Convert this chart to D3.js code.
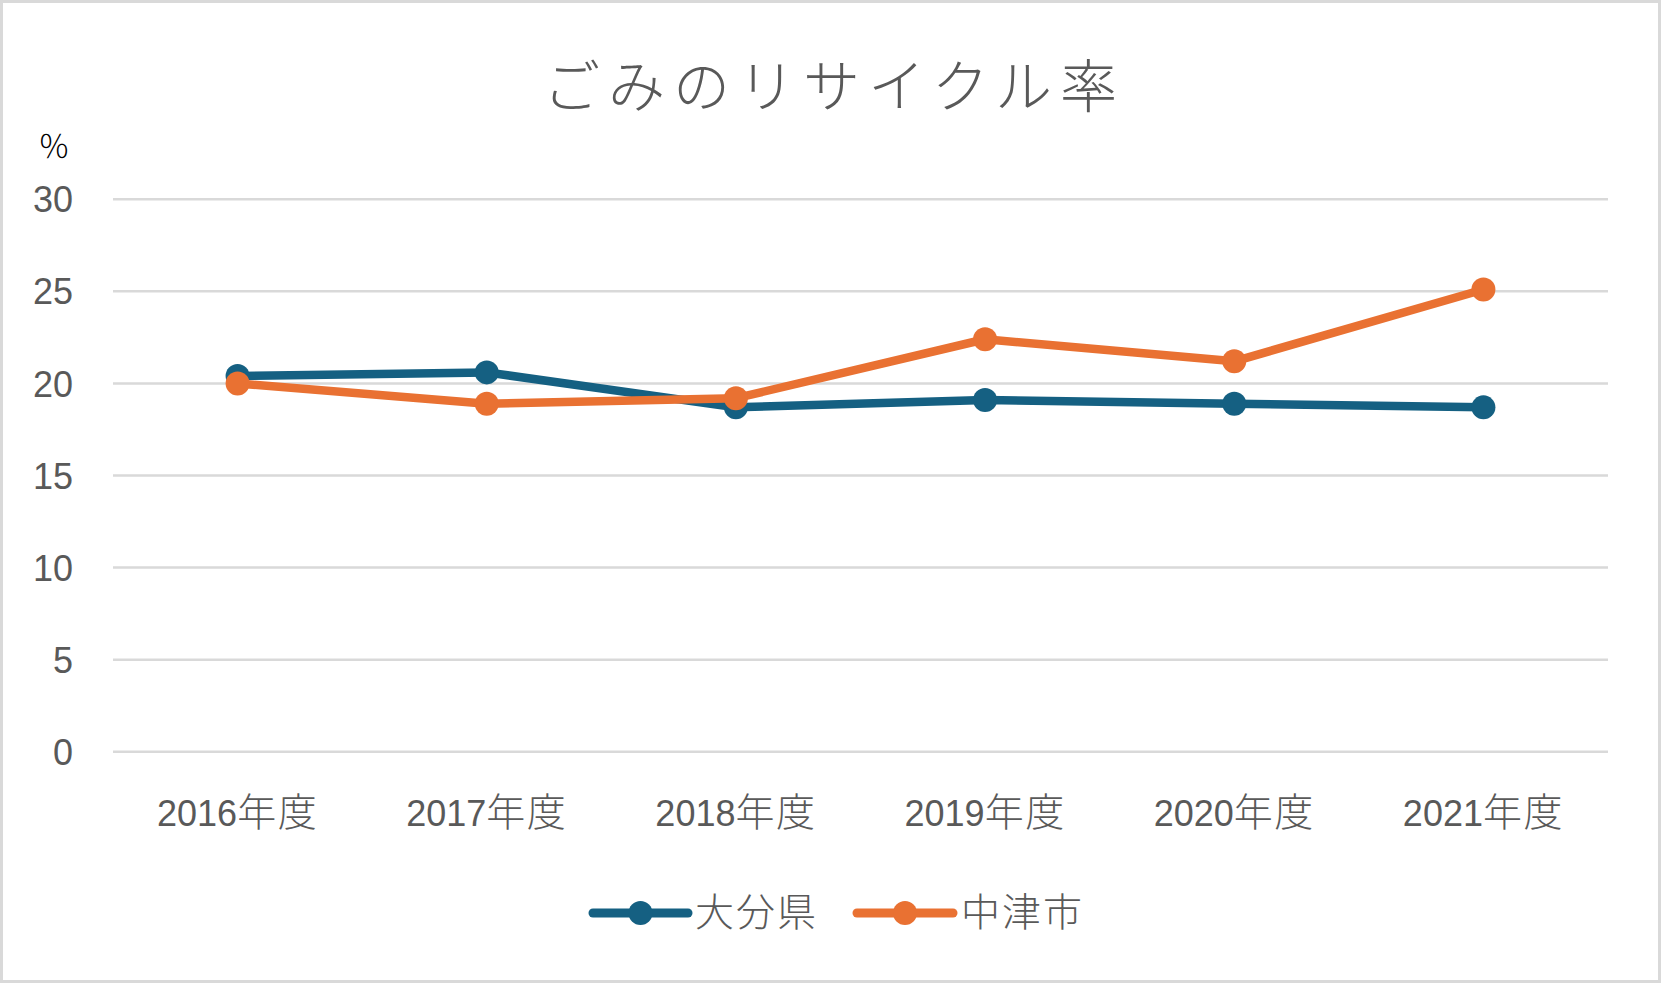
<!DOCTYPE html>
<html>
<head>
<meta charset="utf-8">
<script src="https://cdn.jsdelivr.net/npm/d3@7/dist/d3.min.js"></script>
<style>
  html, body { margin: 0; padding: 0; background: #fff; }
  svg { display: block; }
  text { font-family: "Liberation Sans", "Noto Sans CJK JP", sans-serif; }
</style>
</head>
<body>
<svg id="chart" width="1661" height="983"></svg>
<script>
const title = "ごみのリサイクル率";
const unitLabel = "％";
const categories = ["2016年度", "2017年度", "2018年度", "2019年度", "2020年度", "2021年度"];
const seriesNames = ["大分県", "中津市"];
const oitaValues = [20.4, 20.6, 18.7, 19.1, 18.9, 18.7];
const nakatsuValues = [20.0, 18.9, 19.2, 22.4, 21.2, 25.1];
const yTicks = [0, 5, 10, 15, 20, 25, 30];
const colors = ["#156082", "#E97132"];

const svg = d3.select("#chart");
const W = 1661, H = 983;

// frame
svg.append("rect").attr("x", 1.5).attr("y", 1.5).attr("width", W - 3).attr("height", H - 3)
  .attr("fill", "#fff").attr("stroke", "#d9d9d9").attr("stroke-width", 3);

const plot = { left: 113, right: 1608, top: 199.3, bottom: 751.7 };

const x = d3.scaleBand().domain(categories).range([plot.left, plot.right]).padding(0);
const y = d3.scaleLinear().domain([0, 30]).range([plot.bottom, plot.top]);
const cx = d => x(d) + x.bandwidth() / 2;

// gridlines
svg.append("g").selectAll("line").data(yTicks).join("line")
  .attr("x1", plot.left).attr("x2", plot.right)
  .attr("y1", d => y(d)).attr("y2", d => y(d))
  .attr("stroke", "#d9d9d9").attr("stroke-width", 2.5);

// y axis labels
const yAxis = d3.axisLeft(y).tickValues(yTicks).tickSize(0).tickPadding(0);
const gy = svg.append("g").attr("transform", `translate(73,0)`).call(yAxis);
gy.select(".domain").remove();
gy.selectAll("text").attr("fill", "#595959").style("font-size", "36px")
  .style("font-family", "'Liberation Sans', Arial, sans-serif").attr("dy", "0.35em");

// x axis labels
const xAxis = d3.axisBottom(x).tickSize(0).tickPadding(0);
const gx = svg.append("g").attr("transform", `translate(0,826)`).call(xAxis);
gx.select(".domain").remove();
gx.selectAll("text").attr("fill", "#595959").attr("dy", "0")
  .each(function(d) {
    const t = d3.select(this);
    const m = d.match(/^(\d+)(.*)$/);
    t.text(null);
    t.append("tspan").style("font-size", "36px")
      .style("font-family", "'Liberation Sans', Arial, sans-serif").text(m[1]);
    t.append("tspan").style("font-size", "39px").style("font-weight", "300")
      .style("letter-spacing", "1.5px")
      .style("font-family", "'Noto Sans CJK JP', sans-serif").text(m[2]);
  });

// title
svg.append("text").attr("x", 834).attr("y", 107).attr("text-anchor", "middle")
  .attr("fill", "#595959").style("font-size", "57px").style("font-weight", "300")
  .style("letter-spacing", "8px")
  .style("font-family", "'Noto Sans CJK JP', sans-serif")
  .text(title);

// unit
svg.append("text").attr("x", 54).attr("y", 158).attr("text-anchor", "middle")
  .attr("fill", "#000").style("font-size", "32px").style("font-weight", "300")
  .style("font-family", "'Noto Sans CJK JP', sans-serif")
  .text(unitLabel);

// series
const series = [
  { name: seriesNames[0], values: oitaValues, color: colors[0] },
  { name: seriesNames[1], values: nakatsuValues, color: colors[1] }
];
const line = d3.line().x((d, i) => cx(categories[i])).y(d => y(d));

series.forEach(s => {
  const g = svg.append("g");
  g.append("path").datum(s.values).attr("d", line)
    .attr("fill", "none").attr("stroke", s.color).attr("stroke-width", 8.5)
    .attr("stroke-linejoin", "round");
  g.selectAll("circle").data(s.values).join("circle")
    .attr("cx", (d, i) => cx(categories[i])).attr("cy", d => y(d))
    .attr("r", 12).attr("fill", s.color);
});

// legend
const legendItems = [
  { x0: 593, x1: 688, tx: 695 },
  { x0: 857, x1: 953, tx: 961 }
];
series.forEach((s, i) => {
  const L = legendItems[i];
  const g = svg.append("g");
  g.append("line").attr("x1", L.x0).attr("x2", L.x1).attr("y1", 913).attr("y2", 913)
    .attr("stroke", s.color).attr("stroke-width", 9).attr("stroke-linecap", "round");
  g.append("circle").attr("cx", (L.x0 + L.x1) / 2).attr("cy", 913).attr("r", 12).attr("fill", s.color);
  g.append("text").attr("x", L.tx).attr("y", 926).attr("fill", "#595959")
    .style("font-size", "39px").style("font-weight", "300")
    .style("letter-spacing", "2px")
    .style("font-family", "'Noto Sans CJK JP', sans-serif")
    .text(s.name);
});
</script>
</body>
</html>
